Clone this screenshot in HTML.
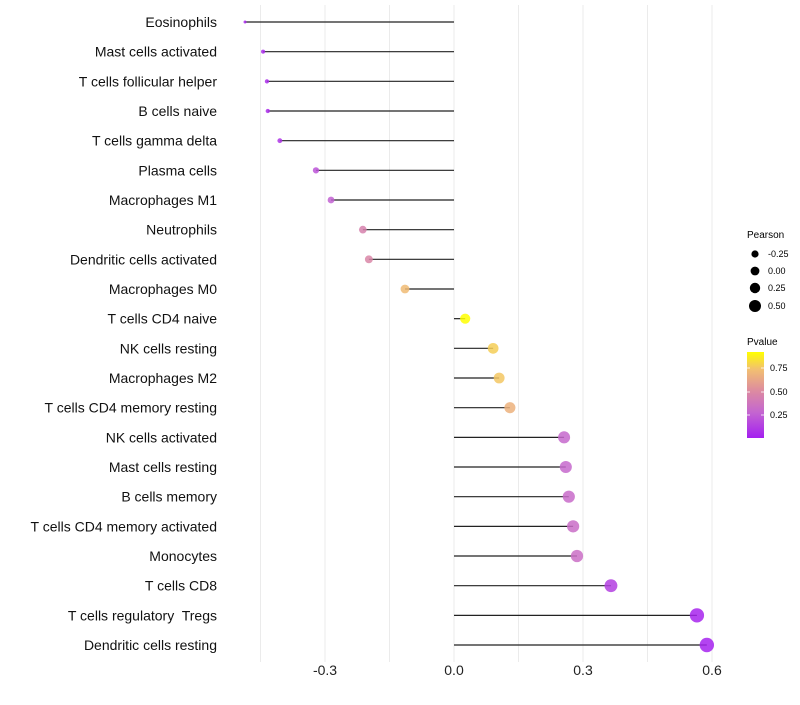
<!DOCTYPE html>
<html><head><meta charset="utf-8"><style>
body{margin:0;background:#fff;font-family:"Liberation Sans",sans-serif}
</style></head><body>
<svg id="chart" width="800" height="700" xmlns="http://www.w3.org/2000/svg">
<defs><linearGradient id="pg" x1="0" y1="1" x2="0" y2="0">
<stop offset="0" stop-color="#a41ff0"/><stop offset="0.3" stop-color="#c466d0"/><stop offset="0.55" stop-color="#dd8ba0"/><stop offset="0.8" stop-color="#f2c070"/><stop offset="1" stop-color="#ffff00"/>
</linearGradient></defs>
<g id="grid"></g>
<g id="marks"></g>
<g id="labels"></g>
<g font-size="9" fill="#000">
<text x="747" y="238" font-size="10">Pearson</text>
<circle cx="755" cy="254" r="3.6"/><text x="768" y="257">-0.25</text>
<circle cx="755" cy="271" r="4.4"/><text x="768" y="274">0.00</text>
<circle cx="755" cy="288" r="5.2"/><text x="768" y="291">0.25</text>
<circle cx="755" cy="306" r="6"/><text x="768" y="309">0.50</text>
<text x="747" y="345" font-size="10">Pvalue</text>
<rect x="747" y="352" width="17" height="86" fill="url(#pg)"/>
<text x="770" y="371">0.75</text><text x="770" y="395">0.50</text><text x="770" y="418">0.25</text>
<g stroke="#fff" stroke-width="0.8"><line x1="747" y1="368" x2="750" y2="368"/><line x1="761" y1="368" x2="764" y2="368"/><line x1="747" y1="392" x2="750" y2="392"/><line x1="761" y1="392" x2="764" y2="392"/><line x1="747" y1="415" x2="750" y2="415"/><line x1="761" y1="415" x2="764" y2="415"/></g>
</g>
</svg>
<script>
const categories=["Eosinophils","Mast cells activated","T cells follicular helper","B cells naive","T cells gamma delta","Plasma cells","Macrophages M1","Neutrophils","Dendritic cells activated","Macrophages M0","T cells CD4 naive","NK cells resting","Macrophages M2","T cells CD4 memory resting","NK cells activated","Mast cells resting","B cells memory","T cells CD4 memory activated","Monocytes","T cells CD8","T cells regulatory  Tregs","Dendritic cells resting"];
const pearson=[-0.486,-0.444,-0.435,-0.433,-0.405,-0.321,-0.286,-0.212,-0.198,-0.114,0.026,0.091,0.105,0.130,0.256,0.260,0.267,0.277,0.286,0.365,0.565,0.588];
const pvalue=[0.05,0.06,0.07,0.07,0.1,0.22,0.27,0.45,0.48,0.72,0.92,0.78,0.76,0.68,0.3,0.3,0.32,0.33,0.34,0.14,0.04,0.03];
const xticks=[-0.3,0,0.3,0.6];
const xtickLabels=["-0.3","0.0","0.3","0.6"];
const NS="http://www.w3.org/2000/svg";
const x=v=>454+v*430;
const y=i=>22+i*29.667;
const pmin=Math.min(...pearson),pmax=Math.max(...pearson);
const r=v=>Math.sqrt(2.25+(v-pmin)/(pmax-pmin)*(51.8-2.25));
const stops=[[0,[164,31,240]],[0.3,[196,102,208]],[0.55,[221,139,160]],[0.8,[242,192,112]],[1,[255,255,0]]];
function col(p){let t=(p-0.016)/(0.92-0.016);t=Math.max(0,Math.min(1,t));
for(let k=1;k<stops.length;k++){if(t<=stops[k][0]){const a=stops[k-1],b=stops[k],f=(t-a[0])/(b[0]-a[0]);
return "rgb("+a[1].map((c,j)=>Math.round(c+(b[1][j]-c)*f)).join(",")+")";}}return "rgb(255,255,0)";}
function mk(t,a,p){const e=document.createElementNS(NS,t);for(const k in a)e.setAttribute(k,a[k]);p.appendChild(e);return e;}
const grid=document.getElementById('grid'),marks=document.getElementById('marks'),labels=document.getElementById('labels');
for(let v=-0.45;v<=0.61;v+=0.15){const g=mk('line',{x1:x(v),x2:x(v),y1:5,y2:662,stroke:'#ebebeb','stroke-width':1},grid);

}
xticks.forEach((v,i)=>{const t=mk('text',{x:x(v),y:675,'text-anchor':'middle','font-size':14,fill:'#222'},labels);t.textContent=xtickLabels[i];

});
categories.forEach((c,i)=>{
const t=mk('text',{x:217,y:y(i)+5,'text-anchor':'end','font-size':14,fill:'#111'},labels);t.style.whiteSpace='pre';t.textContent=c;


const l=mk('line',{x1:x(0),x2:x(pearson[i]),y1:y(i),y2:y(i),stroke:'#222','stroke-width':1.2},marks);


const d=mk('circle',{cx:x(pearson[i]),cy:y(i),r:r(pearson[i]),fill:col(pvalue[i]),'fill-opacity':0.85},marks);


});
</script>
</body></html>
